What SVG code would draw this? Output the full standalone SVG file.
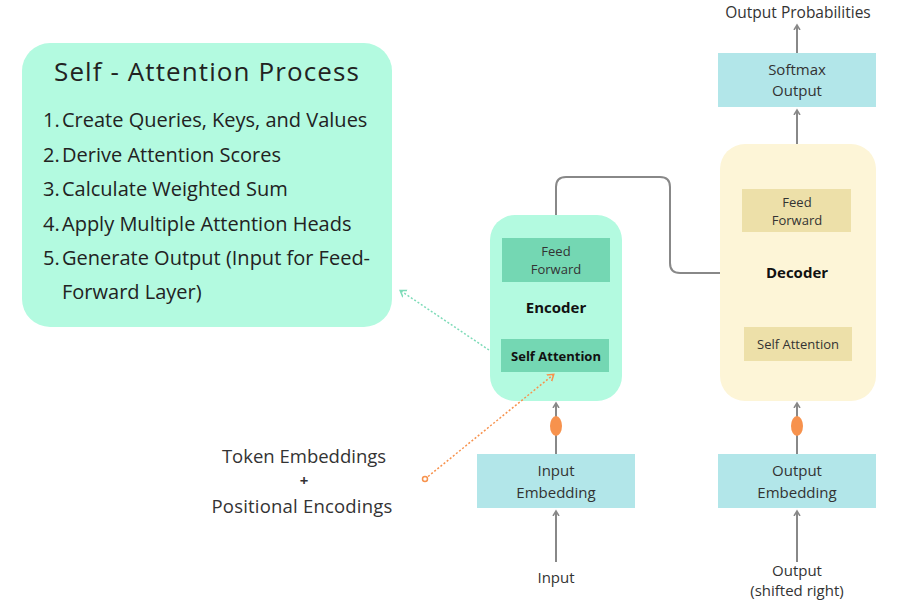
<svg xmlns="http://www.w3.org/2000/svg" width="898" height="604" viewBox="0 0 898 604">
<defs>
<marker id="ah" markerWidth="8" markerHeight="8" refX="4" refY="4" orient="auto" markerUnits="userSpaceOnUse">
<path d="M0,1 L5,4 L0,7" fill="none" stroke="#888" stroke-width="1.5"/>
</marker>
<marker id="ahO" markerWidth="10" markerHeight="10" refX="5" refY="5" orient="auto" markerUnits="userSpaceOnUse">
<path d="M0,1 L6,5 L0,9" fill="none" stroke="#f7924d" stroke-width="1.5"/>
</marker>
<marker id="ahG" markerWidth="10" markerHeight="10" refX="5" refY="5" orient="auto" markerUnits="userSpaceOnUse">
<path d="M0,1 L6,5 L0,9" fill="none" stroke="#7ddbb8" stroke-width="1.5"/>
</marker>
<marker id="dotO" markerWidth="8" markerHeight="8" refX="4" refY="4" markerUnits="userSpaceOnUse">
<circle cx="4" cy="4" r="2.5" fill="#fff" stroke="#f7924d" stroke-width="1.5"/>
</marker>
</defs>
<style>
text{font-family:"Open Sans","Noto Sans","Liberation Sans",sans-serif;fill:#333;text-anchor:middle}
.t{font-size:15px}
.s{font-size:13px}
.b{font-size:15px;font-weight:bold;fill:#111}
.li{font-size:20px;text-anchor:start;fill:#222}
.conn{fill:none;stroke:#888;stroke-width:2}
.pe{fill:#f7924d}
</style>
<rect width="898" height="604" fill="#fff"/>
<g id="self-attention-process">
<rect x="22" y="43" width="370" height="284" rx="28" fill="#b3fae0"/>
<text x="207" y="81" style="font-size:26px;letter-spacing:1.1px;fill:#222">Self - Attention Process</text>
<text class="li" x="43" y="127">1.</text><text class="li" x="62" y="127">Create Queries, Keys, and Values</text>
<text class="li" x="43" y="162">2.</text><text class="li" x="62" y="162">Derive Attention Scores</text>
<text class="li" x="43" y="196">3.</text><text class="li" x="62" y="196">Calculate Weighted Sum</text>
<text class="li" x="43" y="231">4.</text><text class="li" x="62" y="231">Apply Multiple Attention Heads</text>
<text class="li" x="43" y="265">5.</text><text class="li" x="62" y="265">Generate Output (Input for Feed-</text>
<text class="li" x="62" y="299">Forward Layer)</text>
</g>
<g id="encoder">
<rect x="490" y="215" width="132" height="186" rx="25" fill="#b3fae0"/>
<rect x="502" y="238" width="108" height="44" fill="#74d7b3"/>
<text class="s" x="556" y="256">Feed</text>
<text class="s" x="556" y="274">Forward</text>
<text class="b" x="556" y="313">Encoder</text>
<rect x="501" y="339" width="108" height="33" fill="#74d7b3"/>
<text class="s" x="556" y="361" style="font-weight:bold;fill:#111">Self Attention</text>
</g>
<g id="decoder">
<rect x="720" y="144" width="156" height="257" rx="25" fill="#fdf5d7"/>
<rect x="742" y="189" width="109" height="43" fill="#ede0a9"/>
<text class="s" x="797" y="207">Feed</text>
<text class="s" x="797" y="225">Forward</text>
<text class="b" x="797" y="278">Decoder</text>
<rect x="744" y="327" width="108" height="34" fill="#ede0a9"/>
<text class="s" x="798" y="349">Self Attention</text>
</g>
<g id="softmax">
<rect x="718" y="53" width="158" height="54" fill="#b2e6e9"/>
<text class="t" x="797" y="75">Softmax</text>
<text class="t" x="797" y="96">Output</text>
</g>
<g id="output-probabilities"><text x="798" y="18" style="font-size:15.5px">Output Probabilities</text></g>
<g id="input-embedding">
<rect x="477" y="454" width="158" height="54" fill="#b2e6e9"/>
<text class="t" x="556" y="476">Input</text>
<text class="t" x="556" y="498">Embedding</text>
</g>
<g id="output-embedding">
<rect x="718" y="454" width="158" height="54" fill="#b2e6e9"/>
<text class="t" x="797" y="476">Output</text>
<text class="t" x="797" y="498">Embedding</text>
</g>
<g id="input"><text class="t" x="556" y="583">Input</text></g>
<g id="output">
<text class="t" x="797" y="576">Output</text>
<text class="t" x="797" y="596">(shifted right)</text>
</g>
<g id="token-embeddings">
<text x="304" y="463" style="font-size:18.5px">Token Embeddings</text>
<text x="304" y="486" style="font-size:15px;font-weight:bold">+</text>
<text x="302" y="513" style="font-size:18.5px;letter-spacing:0.2px">Positional Encodings</text>
</g>
<g id="connectors">
<path class="conn" d="M556,215 V187 Q556,177 566,177 H660 Q670,177 670,187 V263 Q670,273 680,273 H720"/>
<line class="conn" x1="797" y1="144" x2="797" y2="111" marker-end="url(#ah)"/>
<line class="conn" x1="797" y1="53" x2="797" y2="26" marker-end="url(#ah)"/>
<line class="conn" x1="556" y1="454" x2="556" y2="404" marker-end="url(#ah)"/>
<line class="conn" x1="797" y1="454" x2="797" y2="404" marker-end="url(#ah)"/>
<line class="conn" x1="556" y1="562" x2="556" y2="512" marker-end="url(#ah)"/>
<line class="conn" x1="797" y1="562" x2="797" y2="512" marker-end="url(#ah)"/>
<line x1="425" y1="479" x2="553" y2="375" stroke="#f7924d" stroke-width="1.5" stroke-dasharray="2,2" marker-start="url(#dotO)" marker-end="url(#ahO)"/>
<line x1="489" y1="350" x2="401" y2="291" stroke="#7ddbb8" stroke-width="1.5" stroke-dasharray="2,2" marker-end="url(#ahG)"/>
</g>
<g id="pe-enc"><ellipse class="pe" cx="556" cy="426" rx="6" ry="10"/></g>
<g id="pe-dec"><ellipse class="pe" cx="797" cy="426" rx="6" ry="10"/></g>
</svg>
